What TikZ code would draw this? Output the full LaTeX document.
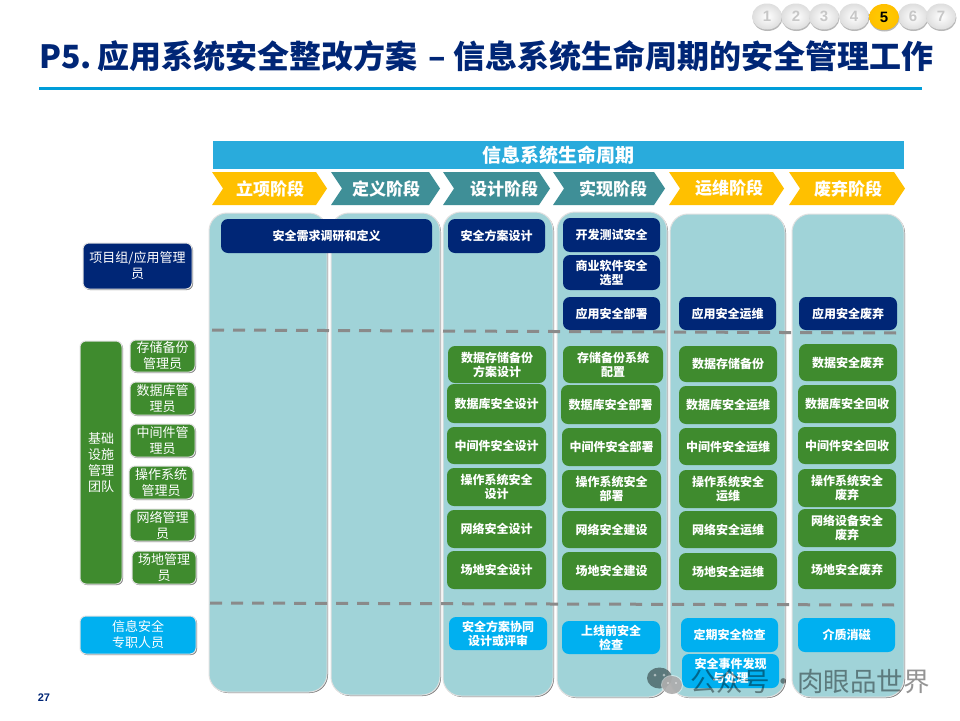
\documentclass[tikz,border=0pt]{standalone}
\usepackage{fontspec}
\setmainfont{Noto Sans CJK SC}
\newfontfamily\latinb{Liberation Sans}[Scale=1]
\usetikzlibrary{shadows,calc}
\definecolor{navy}{HTML}{002676}
\definecolor{grn}{HTML}{3F8B2E}
\definecolor{cyn}{HTML}{00B0F0}
\definecolor{colbg}{HTML}{A0D3D8}
\definecolor{gold}{HTML}{FFC000}
\definecolor{teal2}{HTML}{3F8F97}
\definecolor{barblue}{HTML}{29ABDC}
\definecolor{rule}{HTML}{009DD9}
\definecolor{dashc}{HTML}{8A8A8A}
\tikzset{
  base/.style={inner sep=0pt,outer sep=0pt,align=center,text=white},
  colbox/.style={base,fill=colbg,draw=white!88!black,line width=1pt,rounded corners=18pt,
     general shadow={shadow xshift=1pt,shadow yshift=-1pt,fill=black!50}},
  navybox/.style={base,fill=navy,rounded corners=7pt,font=\fontsize{12}{14}\selectfont\bfseries},
  grnbox/.style={base,fill=grn,rounded corners=7pt,font=\fontsize{12}{14}\selectfont\bfseries},
  cynbox/.style={base,fill=cyn,rounded corners=7pt,font=\fontsize{12}{14}\selectfont\bfseries},
  rolebox/.style={base,draw=white!88!black,line width=1pt,rounded corners=6pt,
     font=\fontsize{13}{16}\selectfont,
     general shadow={shadow xshift=1pt,shadow yshift=-1pt,fill=black!50}},
  rolenavy/.style={rolebox,fill=navy},
  rolegrn/.style={rolebox,fill=grn},
  rolecyn/.style={rolebox,fill=cyn},
  phasetext/.style={base,font=\fontsize{17}{19}\selectfont\bfseries},
  divider/.style={draw=dashc,line width=3pt,dash pattern=on 12pt off 9pt},
  pball/.style={circle,inner sep=0pt,minimum width=26pt,xscale=1.15,inner color=white,outer color=black!13,
     general shadow={shadow xshift=0.5pt,shadow yshift=-1.5pt,fill=black!28}},
  pnum/.style={inner sep=0pt,font=\fontsize{15}{15}\latinb\bfseries,text=black!22},
}
\newcommand{\bx}[7]{%
  \pgfmathsetmacro{\cxa}{(#3+#5)/2}\pgfmathsetmacro{\cya}{(#4+#6)/2}%
  \pgfmathsetmacro{\wa}{#5-#3}\pgfmathsetmacro{\ha}{#6-#4}%
  \node[#2,minimum width=\wa pt,minimum height=\ha pt] (#1) at (\cxa,\cya) {#7};}
\newcommand{\phase}[6]{% name colour x1 x2 x-text text
  \fill[#2] (#3,172) -- ({#4-11},172) -- (#4,188.5) -- ({#4-11},205) -- (#3,205) -- ({#3+11},188.5) -- cycle;
  \node[phasetext] (#1) at (#5,188.5) {#6};}
\begin{document}
\begin{tikzpicture}[x=1pt,y=-1pt]
\useasboundingbox (0,0) rectangle (960,720);
\fill[white] (0,0) rectangle (960,720);
% pager
\foreach \n/\x in {1/767,2/796,3/824,4/854,6/913,7/941}{
  \node[pball] (b\n) at (\x,16.5) {};
  \node[pnum] (t\n) at (\x,16.5) {\n};
}
\node[pball,inner color=gold!80!yellow,outer color=gold] (b5) at (884,17) {};
\node[pnum,text=black] (t5) at (884,17) {5};
% title
\node[anchor=west,inner sep=0pt,text=navy,font=\fontsize{32}{34}\selectfont\bfseries] (title) at (39,56) {P5.\hspace{-4pt} 应用系统安全整改方案\hspace{4pt} – 信息系统生命周期的安全管理工作};
\coordinate (ruleA) at (39,88);
\coordinate (ruleB) at (922,88);
\draw[rule,line width=3pt] (ruleA) -- (ruleB);
% header
\bx{hdr}{base,fill=barblue,font=\fontsize{19}{21}\selectfont\bfseries}{213}{141}{904}{169}{信息系统生命周期}
\phase{p1}{gold}{212}{327}{270}{立项阶段}
\phase{p2}{teal2}{331}{440}{386}{定义阶段}
\phase{p3}{teal2}{443}{550}{504}{设计阶段}
\phase{p4}{teal2}{553}{665}{613}{实现阶段}
\phase{p5}{gold}{669}{784}{729}{运维阶段}
\phase{p6}{gold}{789}{905}{848}{废弃阶段}
% columns
\bx{c1}{colbox}{209}{213}{327}{692}{}
\bx{c2}{colbox}{331}{213}{440}{695}{}
\bx{c3}{colbox}{443}{212}{553}{696}{}
\bx{c4}{colbox}{557}{212}{667}{697}{}
\bx{c5}{colbox}{670}{214}{785}{697}{}
\bx{c6}{colbox}{792}{214}{904}{697}{}
% roles
\bx{r1}{rolenavy}{83}{243}{192}{289}{项目组/应用管理\\员}
\bx{r2}{rolegrn}{80}{341}{122}{584}{基础\\设施\\管理\\团队}
\bx{r3}{rolegrn}{130}{340}{195}{372}{存储备份\\管理员}
\bx{r4}{rolegrn}{130}{382}{195}{415}{数据库管\\理员}
\bx{r5}{rolegrn}{130}{424}{195}{457}{中间件管\\理员}
\bx{r6}{rolegrn}{129}{466}{193}{499}{操作系统\\管理员}
\bx{r7}{rolegrn}{130}{509}{195}{541}{网络管理\\员}
\bx{r8}{rolegrn}{132}{551}{196}{584}{场地管理\\员}
\bx{r9}{rolecyn}{80}{616}{196}{654}{信息安全\\专职人员}
% navy tasks
\bx{n1}{navybox}{221}{219}{432}{253}{安全需求调研和定义}
\bx{n2}{navybox}{448}{219}{545}{253}{安全方案设计}
\bx{n3}{navybox}{563}{218}{660}{252}{开发测试安全}
\bx{n4}{navybox}{563}{255}{660}{290}{商业软件安全\\选型}
\bx{n5}{navybox}{563}{297}{660}{330}{应用安全部署}
\bx{n6}{navybox}{679}{297}{776}{330}{应用安全运维}
\bx{n7}{navybox}{799}{297}{897}{330}{应用安全废弃}
% green col3
\bx{g31}{grnbox}{448}{346}{546}{383}{数据存储备份\\方案设计}
\bx{g32}{grnbox}{447}{384}{546}{423}{数据库安全设计}
\bx{g33}{grnbox}{447}{427}{546}{464}{中间件安全设计}
\bx{g34}{grnbox}{447}{468}{546}{506}{操作系统安全\\设计}
\bx{g35}{grnbox}{447}{510}{546}{548}{网络安全设计}
\bx{g36}{grnbox}{447}{551}{546}{589}{场地安全设计}
% green col4
\bx{g41}{grnbox}{563}{346}{663}{383}{存储备份系统\\配置}
\bx{g42}{grnbox}{561}{385}{660}{424}{数据库安全部署}
\bx{g43}{grnbox}{562}{428}{661}{466}{中间件安全部署}
\bx{g44}{grnbox}{562}{470}{661}{508}{操作系统安全\\部署}
\bx{g45}{grnbox}{562}{511}{661}{548}{网络安全建设}
\bx{g46}{grnbox}{562}{552}{661}{590}{场地安全建设}
% green col5
\bx{g51}{grnbox}{679}{346}{777}{382}{数据存储备份}
\bx{g52}{grnbox}{679}{386}{777}{424}{数据库安全运维}
\bx{g53}{grnbox}{679}{428}{777}{465}{中间件安全运维}
\bx{g54}{grnbox}{679}{470}{777}{508}{操作系统安全\\运维}
\bx{g55}{grnbox}{679}{511}{777}{548}{网络安全运维}
\bx{g56}{grnbox}{679}{553}{777}{590}{场地安全运维}
% green col6
\bx{g61}{grnbox}{799}{344}{897}{381}{数据安全废弃}
\bx{g62}{grnbox}{798}{385}{896}{423}{数据库安全回收}
\bx{g63}{grnbox}{798}{427}{896}{464}{中间件安全回收}
\bx{g64}{grnbox}{798}{469}{896}{507}{操作系统安全\\废弃}
\bx{g65}{grnbox}{798}{509}{896}{547}{网络设备安全\\废弃}
\bx{g66}{grnbox}{798}{551}{896}{589}{场地安全废弃}
% cyan tasks
\bx{k3}{cynbox}{449}{617}{547}{650}{安全方案协同\\设计或评审}
\bx{k4}{cynbox}{562}{621}{660}{654}{上线前安全\\检查}
\bx{k5}{cynbox}{681}{618}{778}{652}{定期安全检查}
\bx{k6}{cynbox}{682}{654}{779}{688}{安全事件发现\\与处理}
\bx{k7}{cynbox}{798}{618}{895}{652}{介质消磁}
% dividers
\coordinate (d1a) at (212,330);
\coordinate (d1b) at (897,333);
\coordinate (d2a) at (210,603);
\coordinate (d2b) at (897,605);
\draw[divider] (d1a) -- (d1b);
\draw[divider] (d2a) -- (d2b);
% page number
\node[inner sep=0pt,text=navy,font=\fontsize{11}{12}\latinb\bfseries] (pg) at (44,698) {27};
% watermark
\fill[black!50!colbg,opacity=.85] (659.5,678) ellipse (12.5 and 10.5);
\fill[white,opacity=.5] (672,685) ellipse (11 and 10);
\fill[black!35,opacity=.85] (672,685) ellipse (10 and 9);
\fill[white,opacity=.5] (655,675) circle (1.5) (664,675) circle (1.5) (668,683) circle (1.2) (676,683) circle (1.2);
\node[anchor=west,inner sep=0pt,text=black,text opacity=.42,font=\fontsize{26.5}{28}\selectfont] (wm) at (690,681) {公众号\hspace{0.5pt}·\hspace{0.5pt}肉眼品世界};
\end{tikzpicture}
\end{document}
